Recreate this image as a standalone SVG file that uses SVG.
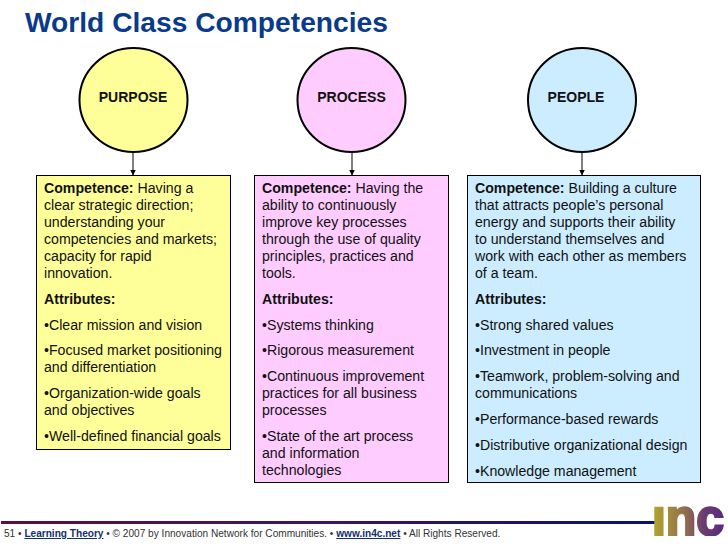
<svg xmlns="http://www.w3.org/2000/svg" width="728" height="546" viewBox="0 0 728 546">
<style>
text{font-family:"Liberation Sans",Arial,sans-serif;fill:#111}
.t{font-size:14.15px}
.b{font-weight:bold}
.n{font-size:14px;font-weight:bold;text-anchor:middle}
.c{stroke:#000;stroke-width:2}
.r{stroke:#000;stroke-width:1}
.l{stroke:#000;stroke-width:1;fill:none;marker-end:url(#a)}
.f{font-size:10.1px;fill:#333}
.u{font-weight:bold;text-decoration:underline;fill:#123070}
</style>
<defs>
<marker id="a" markerUnits="userSpaceOnUse" markerWidth="6" markerHeight="6" refX="5.500" refY="3" orient="auto"><path d="M0 0L6 3L0 6Z" fill="#000"/></marker>
<linearGradient id="g" gradientUnits="userSpaceOnUse" x1="656" x2="725" y1="0" y2="0"><stop offset="0" stop-color="#b0a030"/><stop offset="0.45" stop-color="#8f6a50"/><stop offset="0.7" stop-color="#6a3a70"/><stop offset="1" stop-color="#5a2a80"/></linearGradient>
<linearGradient id="h" x1="0" x2="1" y1="0" y2="0"><stop offset="0" stop-color="#5a0f40"/><stop offset="0.5" stop-color="#3c1560"/><stop offset="1" stop-color="#0a1070"/></linearGradient>
<clipPath id="k"><rect x="650" y="506" width="78" height="30"/></clipPath>
</defs>
<rect width="728" height="546" fill="#fff"/>
<text x="25" y="32" style="font-size:28.2px;font-weight:bold;fill:#0a3a8c">World Class Competencies</text>
<g id="connectors">
<line class="l" x1="133" y1="152" x2="133" y2="175"/>
<line class="l" x1="352" y1="152" x2="352" y2="175"/>
<line class="l" x1="582" y1="152" x2="582" y2="175"/>
</g>
<g id="purpose"><ellipse class="c" cx="133.500" cy="100" rx="54" ry="52" fill="#ffff99"/><text class="n" x="133" y="102">PURPOSE</text></g>
<g id="process"><ellipse class="c" cx="351.500" cy="100" rx="54" ry="52" fill="#ffccff"/><text class="n" x="351.500" y="102">PROCESS</text></g>
<g id="people"><ellipse class="c" cx="582" cy="100" rx="54" ry="52" fill="#ccecff"/><text class="n" x="576" y="102">PEOPLE</text></g>
<g id="box-purpose"><rect class="r" x="36.500" y="175.500" width="194" height="274" fill="#ffff99"/>
<text class="t" x="44" y="193"><tspan class="b">Competence:</tspan> Having a</text>
<text class="t" x="44" y="210">clear strategic direction;</text>
<text class="t" x="44" y="227">understanding your</text>
<text class="t" x="44" y="244">competencies and markets;</text>
<text class="t" x="44" y="261">capacity for rapid</text>
<text class="t" x="44" y="278">innovation.</text>
<text class="t b" x="44" y="304">Attributes:</text>
<text class="t" x="44" y="330">•Clear mission and vision</text>
<text class="t" x="44" y="355">•Focused market positioning</text>
<text class="t" x="44" y="372">and differentiation</text>
<text class="t" x="44" y="398">•Organization-wide goals</text>
<text class="t" x="44" y="415">and objectives</text>
<text class="t" x="44" y="441">•Well-defined financial goals</text>
</g>
<g id="box-process"><rect class="r" x="254.500" y="175.500" width="194" height="307" fill="#ffccff"/>
<text class="t" x="262" y="193"><tspan class="b">Competence:</tspan> Having the</text>
<text class="t" x="262" y="210">ability to continuously</text>
<text class="t" x="262" y="227">improve key processes</text>
<text class="t" x="262" y="244">through the use of quality</text>
<text class="t" x="262" y="261">principles, practices and</text>
<text class="t" x="262" y="278">tools.</text>
<text class="t b" x="262" y="304">Attributes:</text>
<text class="t" x="262" y="330">•Systems thinking</text>
<text class="t" x="262" y="355">•Rigorous measurement</text>
<text class="t" x="262" y="381">•Continuous improvement</text>
<text class="t" x="262" y="398">practices for all business</text>
<text class="t" x="262" y="415">processes</text>
<text class="t" x="262" y="441">•State of the art process</text>
<text class="t" x="262" y="458">and information</text>
<text class="t" x="262" y="475">technologies</text>
</g>
<g id="box-people"><rect class="r" x="467.500" y="175.500" width="233" height="307" fill="#ccecff"/>
<text class="t" x="475" y="193"><tspan class="b">Competence:</tspan> Building a culture</text>
<text class="t" x="475" y="210">that attracts people’s personal</text>
<text class="t" x="475" y="227">energy and supports their ability</text>
<text class="t" x="475" y="244">to understand themselves and</text>
<text class="t" x="475" y="261">work with each other as members</text>
<text class="t" x="475" y="278">of a team.</text>
<text class="t b" x="475" y="304">Attributes:</text>
<text class="t" x="475" y="330">•Strong shared values</text>
<text class="t" x="475" y="355">•Investment in people</text>
<text class="t" x="475" y="381">•Teamwork, problem-solving and</text>
<text class="t" x="475" y="398">communications</text>
<text class="t" x="475" y="424">•Performance-based rewards</text>
<text class="t" x="475" y="450">•Distributive organizational design</text>
<text class="t" x="475" y="476">•Knowledge management</text>
</g>
<g id="footer">
<rect x="1" y="521" width="655" height="3" fill="url(#h)"/>
<text class="f" x="4" y="537">51 • <tspan class="u">Learning Theory</tspan> • © 2007 by Innovation Network for Communities. • <tspan class="u">www.in4c.net</tspan> • All Rights Reserved.</text>
<g clip-path="url(#k)"><text x="652" y="534.500" textLength="72" lengthAdjust="spacingAndGlyphs" style="font-size:52px;font-weight:bold;fill:url(#g);stroke:url(#g);stroke-width:2.500px">inc</text></g>
</g>
</svg>
